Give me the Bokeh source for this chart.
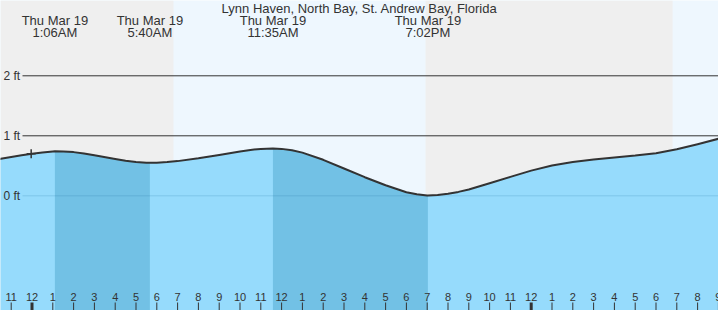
from bokeh.plotting import figure
from bokeh.models import Range1d, BoxAnnotation
from bokeh.embed import file_html
from bokeh.resources import INLINE
from bokeh.core.properties import value

# ---------------- data ----------------
TITLE = "Lynn Haven, North Bay, St. Andrew Bay, Florida"

# hours relative to midnight, Thu Mar 19
tide_hours = [-2, -1.5, -1, -0.5, 0, 0.5, 1, 1.1, 1.5, 2, 2.5, 3, 4, 4.5, 5,
              5.5, 5.667, 6, 6.5, 7, 8, 9, 10, 10.5, 11, 11.583, 12, 12.5,
              13, 14, 15, 16, 17, 18, 18.5, 19, 19.033, 19.5, 20, 20.5, 21,
              22, 23, 24, 25, 26, 27, 28, 29, 30, 31, 32, 33, 34]
tide_ft = [0.58, 0.617, 0.645, 0.675, 0.70, 0.723, 0.74, 0.742, 0.738, 0.728,
           0.705, 0.675, 0.615, 0.585, 0.563, 0.552, 0.55, 0.552, 0.562, 0.578,
           0.625, 0.68, 0.74, 0.765, 0.782, 0.79, 0.782, 0.76, 0.72, 0.60,
           0.455, 0.31, 0.175, 0.06, 0.025, 0.006, 0.005, 0.012, 0.035, 0.065,
           0.105, 0.21, 0.315, 0.42, 0.505, 0.565, 0.605, 0.64, 0.67, 0.71,
           0.775, 0.86, 0.95, 1.04]

event_hours = [1.1, 5.667, 11.583, 19.033]
event_dates = ["Thu Mar 19", "Thu Mar 19", "Thu Mar 19", "Thu Mar 19"]
event_times = ["1:06AM", "5:40AM", "11:35AM", "7:02PM"]

sunrise_hours = [6.8, 30.8]
sunset_hours = [18.92]

now_hour = [-0.04]
now_ft = [0.70]

hour_ticks = list(range(-1, 34))
hour_labels = ["11", "12", "1", "2", "3", "4", "5", "6", "7", "8", "9", "10",
               "11", "12", "1", "2", "3", "4", "5", "6", "7", "8", "9", "10",
               "11", "12", "1", "2", "3", "4", "5", "6", "7", "8", "9"]
midnight_ticks = [0, 24]

level_ft = [2, 1]
level_labels = ["2 ft", "1 ft", "0 ft"]
label_ft = [2, 1, 0]

# ---------------- layout ----------------
W, H = 718, 310
PX_PER_HOUR = 20.8
MIDNIGHT_PX = 31.5
PX_PER_FT = 60.0
ZERO_PX = 195.3

x0 = -MIDNIGHT_PX / PX_PER_HOUR
x1 = (W - MIDNIGHT_PX) / PX_PER_HOUR
y1 = ZERO_PX / PX_PER_FT
y0 = -(H - ZERO_PX) / PX_PER_FT
line_start = x0 + 22 / PX_PER_HOUR

FONT = value("Liberation Sans")
TXT = "#333333"
NIGHT = "#efefef"
DAY = "#eef7fe"
WATER = "#96dbfc"
WATER_DARK = "#72c1e5"

p = figure(width=W, height=H, x_range=Range1d(x0, x1), y_range=Range1d(y0, y1),
           x_axis_type=None, y_axis_type=None, toolbar_location=None,
           output_backend="svg", min_border=0, outline_line_color=None,
           background_fill_color=DAY, border_fill_color="white")

# night shading
p.add_layout(BoxAnnotation(right=sunrise_hours[0], fill_color=NIGHT, fill_alpha=1,
                           line_color=None, level="underlay"))
p.add_layout(BoxAnnotation(left=sunset_hours[0], right=sunrise_hours[1],
                           fill_color=NIGHT, fill_alpha=1, line_color=None,
                           level="underlay"))

# 1 ft / 2 ft lines
p.segment(x0=[line_start] * len(level_ft), x1=[x1] * len(level_ft),
          y0=level_ft, y1=level_ft, line_color=TXT, line_width=1)

# water
p.varea(x=tide_hours, y1=[y0] * len(tide_hours), y2=tide_ft, fill_color=WATER)
for a, b in [(event_hours[0], event_hours[1]), (event_hours[2], event_hours[3])]:
    xs = [t for t in tide_hours if a <= t <= b]
    ys = [f for t, f in zip(tide_hours, tide_ft) if a <= t <= b]
    p.varea(x=xs, y1=[y0] * len(xs), y2=ys, fill_color=WATER_DARK)

# 0 ft line
p.segment(x0=[line_start], x1=[x1], y0=[0], y1=[0], line_color="#1f6f9f",
          line_alpha=0.2, line_width=1)

# tide curve
p.line(tide_hours, tide_ft, line_color=TXT, line_width=2, line_join="round")
p.scatter(now_hour, now_ft, marker="cross", size=9, line_color=TXT, line_width=1.5)

# level labels
p.text(x=[x0] * 3, y=label_ft, text=level_labels, x_offset=3,
       text_baseline="middle", text_align="left", text_font=FONT,
       text_font_size="12px", text_color=TXT)

# hour ticks and labels
widths = [3 if h in midnight_ticks else 1 for h in hour_ticks]
p.rect(x=hour_ticks, y=[y0] * len(hour_ticks), width=widths, height=16,
       width_units="screen", height_units="screen", fill_color=TXT,
       line_color=None)
p.text(x=hour_ticks, y=[y0] * len(hour_ticks), text=hour_labels, y_offset=-14,
       text_align="center", text_baseline="alphabetic", text_font=FONT,
       text_font_size="11px", text_color=TXT)

# title and event labels
p.text(x=[(x0 + x1) / 2], y=[y1], text=[TITLE], y_offset=7.7,
       text_align="center", text_baseline="alphabetic", text_font=FONT,
       text_font_size="13px", text_color=TXT)
p.text(x=event_hours, y=[y1] * 4, text=event_dates, y_offset=20.3,
       text_align="center", text_baseline="alphabetic", text_font=FONT,
       text_font_size="13px", text_color=TXT)
p.text(x=event_hours, y=[y1] * 4, text=event_times, y_offset=32,
       text_align="center", text_baseline="alphabetic", text_font=FONT,
       text_font_size="13px", text_color=TXT)

open("out.html", "w").write(file_html(p, INLINE))
